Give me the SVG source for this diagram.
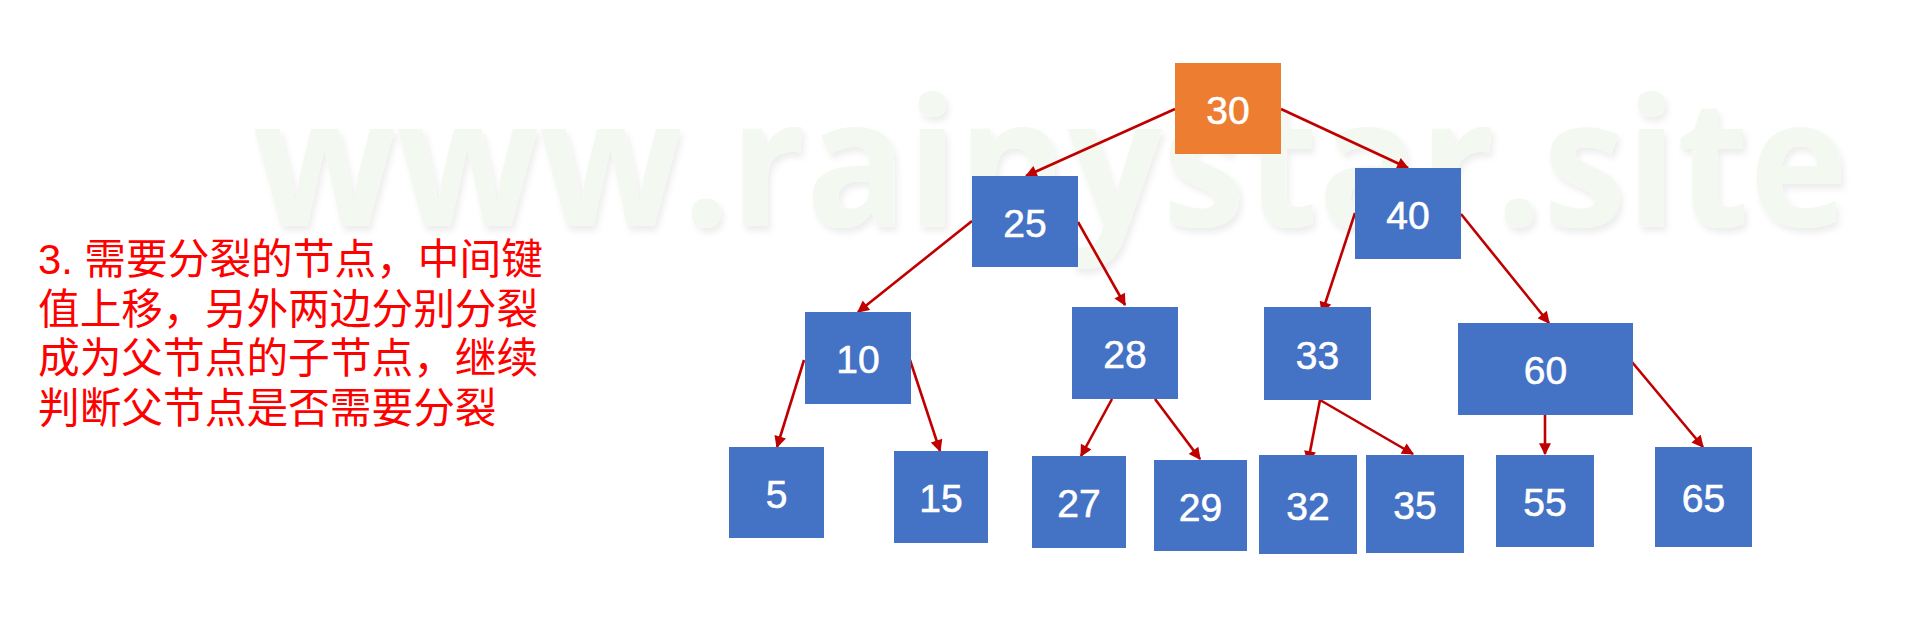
<svg xmlns="http://www.w3.org/2000/svg" width="1932" height="637" viewBox="0 0 1932 637">
<style>
.node rect{fill:#4472C4}
.node.root rect{fill:#ED7D31}
.node text{fill:#FFFFFF;stroke:#FFFFFF;stroke-width:0.6;font-family:"Liberation Sans",Arial,sans-serif;font-size:39px;text-anchor:middle}
.edges line{stroke:#C00000;stroke-width:2.6;marker-end:url(#arr)}
.note{fill:#FF0000;font-family:"Liberation Sans","Noto Sans CJK SC",sans-serif;font-size:41.7px}
.wm{font-family:"Open Sans","DejaVu Sans",sans-serif;font-weight:bold;font-size:178px;fill:#F3F8F0}
</style>
<defs>
<marker id="arr" viewBox="0 0 10 10" refX="9" refY="5" markerWidth="15" markerHeight="12" markerUnits="userSpaceOnUse" orient="auto">
<path d="M0,0 L10,5 L0,10 z" fill="#C00000"/>
</marker>
<filter id="sh" x="-5%" y="-20%" width="110%" height="140%">
<feDropShadow dx="3" dy="5" stdDeviation="3" flood-color="#000000" flood-opacity="0.07"/>
</filter>
</defs>
<rect width="1932" height="637" fill="#FFFFFF"/>
<g id="watermark">
<text class="wm" x="253" y="226" textLength="1595" lengthAdjust="spacingAndGlyphs" filter="url(#sh)">www.rainystar.site</text>
</g>
<g id="note">
<text class="note" x="38" y="274">3. 需要分裂的节点，中间键</text>
<text class="note" x="38" y="323.5">值上移，另外两边分别分裂</text>
<text class="note" x="38" y="373">成为父节点的子节点，继续</text>
<text class="note" x="38" y="422.5">判断父节点是否需要分裂</text>
</g>
<g id="connectors" class="edges">
<line x1="1175" y1="109" x2="1026" y2="176"/>
<line x1="1281" y1="109" x2="1408" y2="168"/>
<line x1="972" y1="221" x2="858" y2="312"/>
<line x1="1078" y1="222" x2="1125" y2="305"/>
<line x1="1355" y1="213" x2="1322" y2="313"/>
<line x1="1461" y1="214" x2="1549" y2="323"/>
<line x1="804" y1="360" x2="777" y2="447"/>
<line x1="910" y1="360" x2="940" y2="451"/>
<line x1="1112" y1="399" x2="1081" y2="456"/>
<line x1="1155" y1="399" x2="1200" y2="459"/>
<line x1="1320" y1="400" x2="1308" y2="462"/>
<line x1="1320" y1="400" x2="1413" y2="454"/>
<line x1="1545" y1="415" x2="1545" y2="454"/>
<line x1="1632" y1="362" x2="1703" y2="447"/>
</g>
<g id="n30" class="node root"><rect x="1175" y="63" width="106" height="91"/><text x="1228" y="124">30</text></g>
<g id="n25" class="node"><rect x="972" y="176" width="106" height="91"/><text x="1025" y="237">25</text></g>
<g id="n40" class="node"><rect x="1355" y="168" width="106" height="91"/><text x="1408" y="229">40</text></g>
<g id="n10" class="node"><rect x="805" y="312" width="106" height="92"/><text x="858" y="373">10</text></g>
<g id="n28" class="node"><rect x="1072" y="307" width="106" height="92"/><text x="1125" y="368">28</text></g>
<g id="n33" class="node"><rect x="1264" y="307" width="107" height="93"/><text x="1317.5" y="368.5">33</text></g>
<g id="n60" class="node"><rect x="1458" y="323" width="175" height="92"/><text x="1545.5" y="384">60</text></g>
<g id="n5" class="node"><rect x="729" y="447" width="95" height="91"/><text x="776.5" y="508">5</text></g>
<g id="n15" class="node"><rect x="894" y="451" width="94" height="92"/><text x="941" y="512">15</text></g>
<g id="n27" class="node"><rect x="1032" y="456" width="94" height="92"/><text x="1079" y="517">27</text></g>
<g id="n29" class="node"><rect x="1154" y="460" width="93" height="91"/><text x="1200.5" y="521">29</text></g>
<g id="n32" class="node"><rect x="1259" y="455" width="98" height="99"/><text x="1308" y="520">32</text></g>
<g id="n35" class="node"><rect x="1366" y="455" width="98" height="98"/><text x="1415" y="519">35</text></g>
<g id="n55" class="node"><rect x="1496" y="455" width="98" height="92"/><text x="1545" y="516">55</text></g>
<g id="n65" class="node"><rect x="1655" y="447" width="97" height="100"/><text x="1703.5" y="512">65</text></g>
</svg>
